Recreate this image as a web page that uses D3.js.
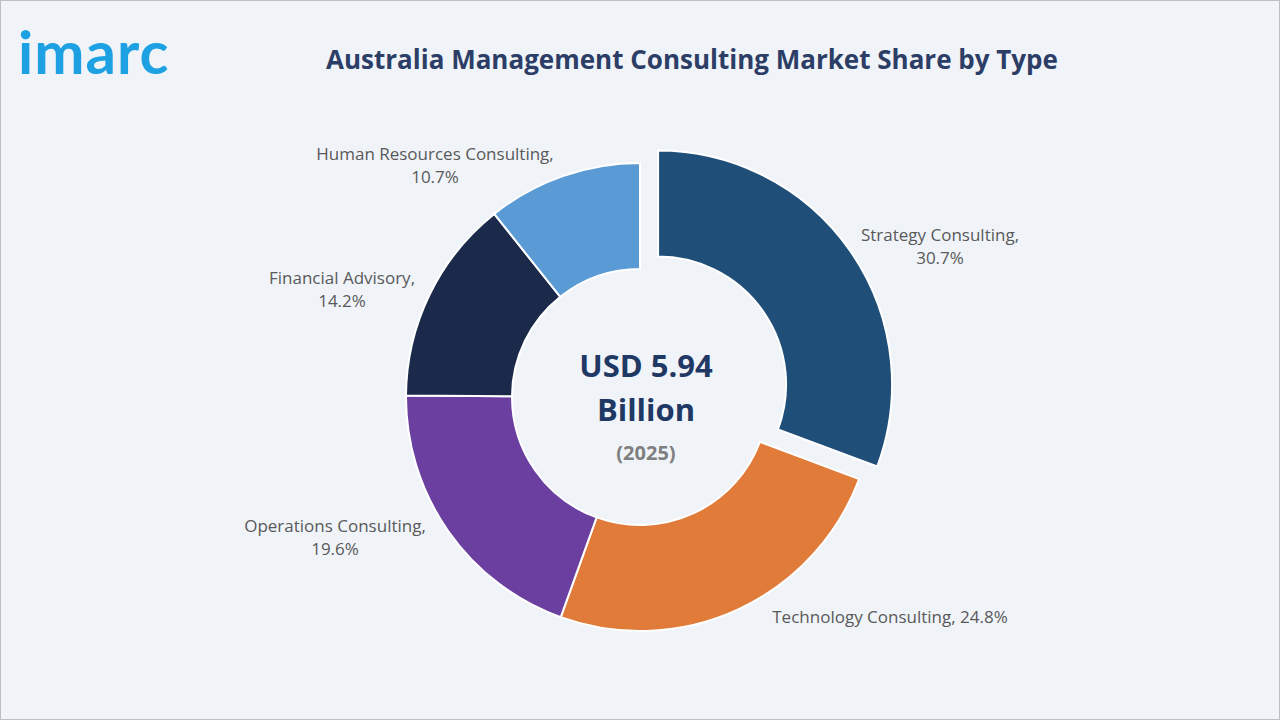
<!DOCTYPE html>
<html><head><meta charset="utf-8">
<script src="https://cdn.jsdelivr.net/npm/d3@7"></script>
<style>
body{margin:0;background:#fff;font-family:"Open Sans",Arial,sans-serif}
</style></head><body>
<svg id="chart" width="1280" height="720"></svg>
<script>
var categories = ["Strategy Consulting", "Technology Consulting", "Operations Consulting", "Financial Advisory", "Human Resources Consulting"];
var shares = [30.7, 24.8, 19.6, 14.2, 10.7];
var colors = ["#1f4e79", "#e07b39", "#6b3fa0", "#1b2a4a", "#5b9bd5"];
// label text lines and anchor points
var labelLines = [
  ["Strategy Consulting,", "30.7%"],
  ["Technology Consulting, 24.8%"],
  ["Operations Consulting,", "19.6%"],
  ["Financial Advisory,", "14.2%"],
  ["Human Resources Consulting,", "10.7%"]
];
var labelPos = [[940, 241], [890, 623], [335, 532], [342, 284], [435, 160]];

var svg = d3.select("#chart");
svg.append("rect").attr("x", 0.5).attr("y", 0.5).attr("width", 1279).attr("height", 719)
  .attr("fill", "#f0f4f9").attr("stroke", "#bfbfbf");

// logo
svg.append("text").attr("x", 18).attr("y", 74).attr("fill", "#1da1e2")
  .style("font-family", "Lato, sans-serif").style("font-size", "60px").style("font-weight", 700)
  .style("letter-spacing", "1px").text("imarc");

svg.append("text").attr("x", 692).attr("y", 69).attr("text-anchor", "middle")
  .attr("fill", "#2c3e66").style("font-size", "26px").style("font-weight", 700)
  .text("Australia Management Consulting Market Share by Type");

var cx = 640, cy = 397, rO = 234, rI = 128;
var pie = d3.pie().sort(null).value(function(d) { return d; });
var arc = d3.arc().innerRadius(rI).outerRadius(rO);
var g = svg.append("g").attr("transform", "translate(" + cx + "," + cy + ")");

g.selectAll("path").data(pie(shares)).enter().append("path")
  .attr("d", arc)
  .attr("fill", function(d, i) { return colors[i]; })
  .attr("stroke", "#fff").attr("stroke-width", 2)
  .attr("transform", function(d, i) {
    if (i !== 0) return null;
    var a = (d.startAngle + d.endAngle) / 2, off = 22;
    return "translate(" + (Math.sin(a) * off) + "," + (-Math.cos(a) * off) + ")";
  });

labelLines.forEach(function(lines, i) {
  var t = svg.append("text").attr("text-anchor", "middle").attr("fill", "#595959")
    .style("font-size", "17px");
  lines.forEach(function(l, j) {
    t.append("tspan").attr("x", labelPos[i][0]).attr("y", labelPos[i][1] + j * 23).text(l);
  });
});

svg.append("text").attr("x", 646).attr("y", 377).attr("text-anchor", "middle").attr("fill", "#1f3864")
  .style("font-size", "31px").style("font-weight", 700).text("USD 5.94");
svg.append("text").attr("x", 646).attr("y", 421).attr("text-anchor", "middle").attr("fill", "#1f3864")
  .style("font-size", "31px").style("font-weight", 700).text("Billion");
svg.append("text").attr("x", 646).attr("y", 460).attr("text-anchor", "middle").attr("fill", "#7f7f7f")
  .style("font-size", "20px").style("font-weight", 700).text("(2025)");
</script>
</body></html>
